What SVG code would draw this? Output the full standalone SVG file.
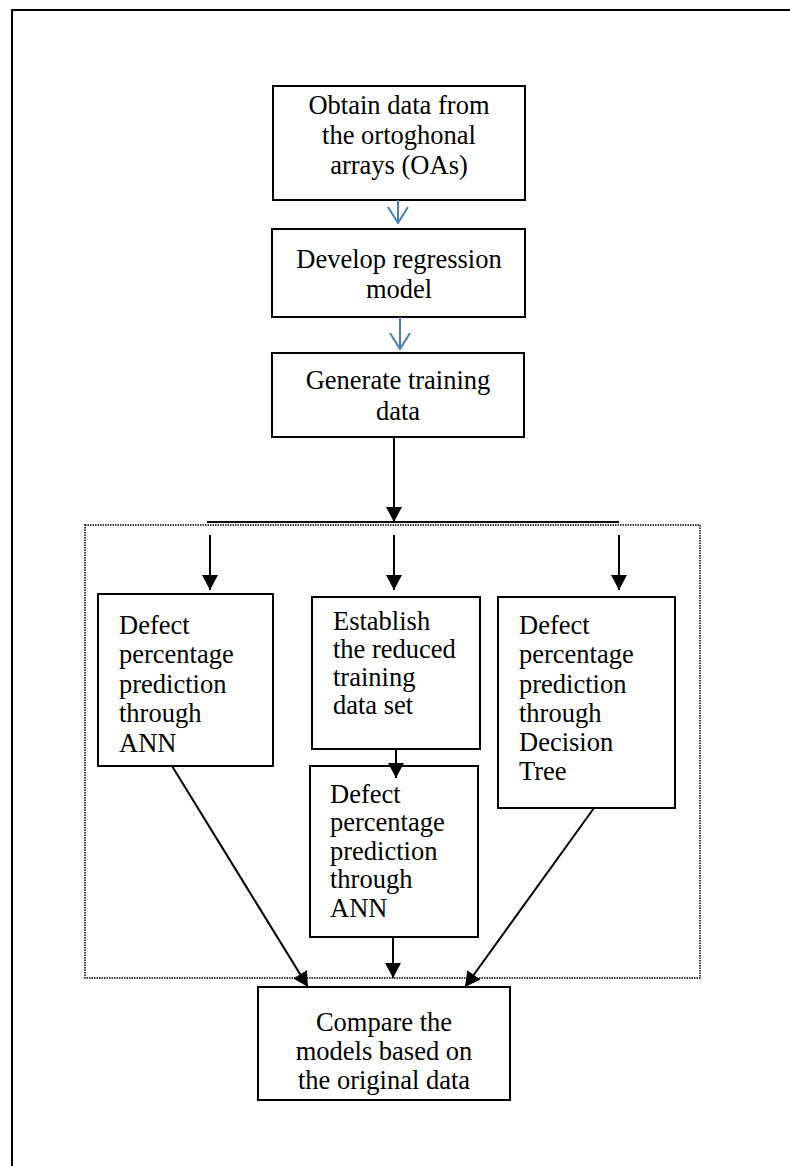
<svg xmlns="http://www.w3.org/2000/svg" width="790" height="1166" viewBox="0 0 790 1166">
  <style>
    .box { fill: #ffffff; stroke: #000000; stroke-width: 2; }
    .lbl { font-family: "Liberation Serif", "Times New Roman", serif; font-size: 26.5px; fill: #000000; }
    .mid { text-anchor: middle; }
    .wire { stroke: #000000; stroke-width: 2; fill: none; }
    .blue { stroke: #4a7ebb; stroke-width: 2; fill: none; }
    .frame { stroke: #000000; stroke-width: 2; fill: none; }
    .dots { stroke: #000000; stroke-width: 1.5; stroke-dasharray: 1.5 1; fill: none; }
  </style>
  <defs>
    <marker id="tri" viewBox="0 0 15 16" refX="15" refY="8" markerWidth="15" markerHeight="16" markerUnits="userSpaceOnUse" orient="auto">
      <path d="M0,0 L15,8 L0,16 Z" fill="#000000"/>
    </marker>
    <marker id="vee" viewBox="0 0 18 22" refX="17" refY="11" markerWidth="18" markerHeight="22" markerUnits="userSpaceOnUse" orient="auto">
      <path d="M1,1 L17,11 L1,21" fill="none" stroke="#4a7ebb" stroke-width="2"/>
    </marker>
  </defs>

  <rect width="790" height="1166" fill="#ffffff"/>

  <!-- page frame (top and left edges) -->
  <path class="frame" d="M12,1166 L12,10 L790,10"/>

  <!-- dotted grouping frame around the three methods -->
  <rect class="dots" x="85" y="525" width="615" height="453"/>

  <g id="obtain">
    <rect class="box" x="273" y="86" width="252" height="114"/>
    <text class="lbl mid" x="399" y="114">Obtain data from</text>
    <text class="lbl mid" x="399" y="144">the ortoghonal</text>
    <text class="lbl mid" x="399" y="174">arrays (OAs)</text>
  </g>

  <g id="regression">
    <rect class="box" x="272" y="229" width="253" height="88"/>
    <text class="lbl mid" x="399" y="268">Develop regression</text>
    <text class="lbl mid" x="399" y="298">model</text>
  </g>

  <g id="training">
    <rect class="box" x="272" y="353" width="252" height="84"/>
    <text class="lbl mid" x="398" y="389">Generate training</text>
    <text class="lbl mid" x="398" y="420">data</text>
  </g>

  <g id="ann">
    <rect class="box" x="98" y="594" width="175" height="172"/>
    <text class="lbl" x="119" y="634">Defect</text>
    <text class="lbl" x="119" y="663">percentage</text>
    <text class="lbl" x="119" y="693">prediction</text>
    <text class="lbl" x="119" y="722">through</text>
    <text class="lbl" x="119" y="752">ANN</text>
  </g>

  <g id="reduced">
    <rect class="box" x="312" y="597" width="168" height="152"/>
    <text class="lbl" x="333" y="630">Establish</text>
    <text class="lbl" x="333" y="658">the reduced</text>
    <text class="lbl" x="333" y="686">training</text>
    <text class="lbl" x="333" y="714">data set</text>
  </g>

  <g id="reduced-ann">
    <rect class="box" x="310" y="766" width="168" height="171"/>
    <text class="lbl" x="330" y="803">Defect</text>
    <text class="lbl" x="330" y="831">percentage</text>
    <text class="lbl" x="330" y="860">prediction</text>
    <text class="lbl" x="330" y="888">through</text>
    <text class="lbl" x="330" y="917">ANN</text>
  </g>

  <g id="tree">
    <rect class="box" x="498" y="597" width="177" height="211"/>
    <text class="lbl" x="519" y="634">Defect</text>
    <text class="lbl" x="519" y="663">percentage</text>
    <text class="lbl" x="519" y="693">prediction</text>
    <text class="lbl" x="519" y="722">through</text>
    <text class="lbl" x="519" y="751">Decision</text>
    <text class="lbl" x="519" y="780">Tree</text>
  </g>

  <g id="compare">
    <rect class="box" x="258" y="987" width="252" height="113"/>
    <text class="lbl mid" x="384" y="1031">Compare the</text>
    <text class="lbl mid" x="384" y="1060">models based on</text>
    <text class="lbl mid" x="384" y="1089">the original data</text>
  </g>

  <!-- connectors drawn last so arrowheads sit over box borders -->
  <g id="connectors">
    <line class="blue" x1="398" y1="200" x2="398" y2="223" marker-end="url(#vee)"/>
    <line class="blue" x1="400" y1="317" x2="400" y2="349" marker-end="url(#vee)"/>
    <line class="wire" x1="394" y1="437" x2="394" y2="522" marker-end="url(#tri)"/>
    <line class="wire" x1="207" y1="522" x2="619" y2="522"/>
    <line class="wire" x1="210" y1="535" x2="210" y2="590" marker-end="url(#tri)"/>
    <line class="wire" x1="394" y1="535" x2="394" y2="590" marker-end="url(#tri)"/>
    <line class="wire" x1="619" y1="535" x2="619" y2="590" marker-end="url(#tri)"/>
    <line class="wire" x1="396" y1="749" x2="396" y2="778" marker-end="url(#tri)"/>
    <line class="wire" x1="172" y1="766" x2="308" y2="987" marker-end="url(#tri)"/>
    <line class="wire" x1="393" y1="937" x2="393" y2="978" marker-end="url(#tri)"/>
    <line class="wire" x1="594" y1="808" x2="465" y2="987" marker-end="url(#tri)"/>
  </g>
</svg>
